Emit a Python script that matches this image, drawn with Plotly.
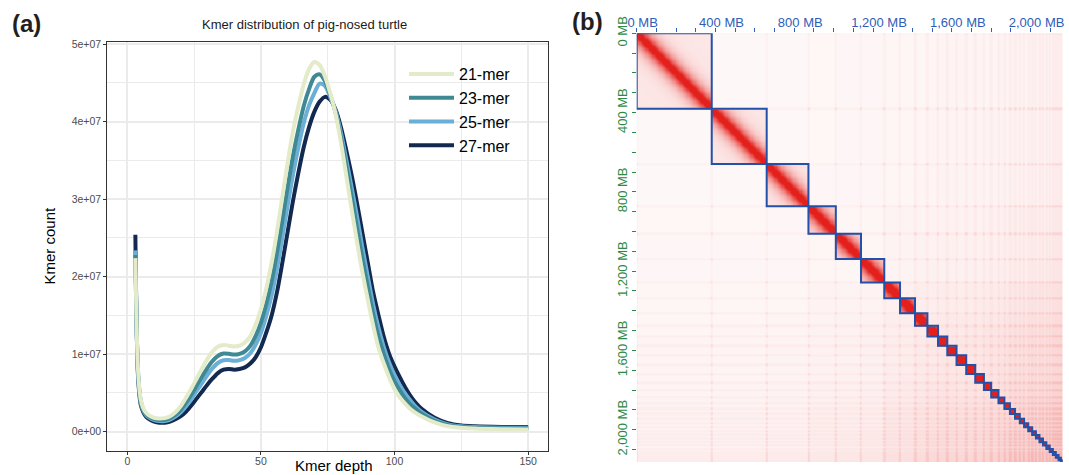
import numpy as np
import plotly.graph_objects as go

# ---------------- Panel (a) data: k-mer depth distribution ----------------
depth = [3, 4, 5, 6, 7, 8, 9, 10, 12, 14, 16, 18, 20, 22, 24, 26, 28, 30, 32, 34,
         36, 38, 40, 42, 44, 46, 48, 50, 52, 54, 56, 58, 60, 62, 64, 66, 68, 70,
         72, 74, 76, 78, 80, 82, 84, 86, 88, 90, 92, 94, 96, 98, 100, 102, 104,
         106, 108, 110, 115, 120, 125, 130, 140, 150]

# counts in units of 1e7
mer21 = [2.24, 0.80, 0.42, 0.30, 0.245, 0.215, 0.195, 0.18, 0.17, 0.175, 0.20, 0.25,
         0.33, 0.44, 0.56, 0.69, 0.82, 0.94, 1.04, 1.10, 1.12, 1.11, 1.10, 1.11,
         1.15, 1.23, 1.38, 1.58, 1.85, 2.18, 2.58, 3.03, 3.47, 3.88, 4.20, 4.48,
         4.68, 4.77, 4.73, 4.58, 4.36, 4.09, 3.72, 3.29, 2.86, 2.44, 2.05, 1.70,
         1.37, 1.08, 0.88, 0.70, 0.55, 0.44, 0.36, 0.29, 0.24, 0.20, 0.12, 0.07,
         0.05, 0.04, 0.033, 0.03]
mer23 = [2.28, 0.77, 0.40, 0.28, 0.228, 0.197, 0.178, 0.163, 0.151, 0.155, 0.176, 0.22,
         0.285, 0.38, 0.48, 0.60, 0.715, 0.825, 0.918, 0.98, 1.008, 1.005, 0.995, 1.005,
         1.038, 1.108, 1.233, 1.408, 1.65, 1.94, 2.31, 2.73, 3.16, 3.56, 3.90, 4.20,
         4.42, 4.58, 4.61, 4.52, 4.34, 4.11, 3.79, 3.41, 3.02, 2.62, 2.23, 1.87,
         1.52, 1.23, 1.00, 0.80, 0.65, 0.53, 0.43, 0.35, 0.29, 0.235, 0.14, 0.084,
         0.06, 0.05, 0.043, 0.04]
mer25 = [2.34, 0.75, 0.38, 0.27, 0.214, 0.184, 0.164, 0.149, 0.137, 0.139, 0.157, 0.194,
         0.25, 0.33, 0.42, 0.53, 0.63, 0.735, 0.823, 0.89, 0.922, 0.924, 0.914, 0.924,
         0.952, 1.013, 1.12, 1.276, 1.497, 1.76, 2.10, 2.50, 2.92, 3.32, 3.67, 3.98,
         4.21, 4.37, 4.49, 4.46, 4.31, 4.13, 3.85, 3.50, 3.14, 2.77, 2.37, 2.00,
         1.64, 1.34, 1.09, 0.89, 0.73, 0.60, 0.49, 0.40, 0.32, 0.26, 0.157, 0.095,
         0.07, 0.06, 0.052, 0.05]
mer27 = [2.54, 0.72, 0.35, 0.25, 0.195, 0.165, 0.145, 0.13, 0.117, 0.117, 0.13, 0.16,
         0.20, 0.26, 0.34, 0.43, 0.52, 0.61, 0.69, 0.76, 0.80, 0.81, 0.80, 0.81,
         0.83, 0.88, 0.96, 1.09, 1.28, 1.50, 1.80, 2.18, 2.58, 2.98, 3.34, 3.67,
         3.93, 4.13, 4.26, 4.32, 4.28, 4.15, 3.92, 3.62, 3.30, 2.94, 2.56, 2.18,
         1.80, 1.50, 1.22, 1.00, 0.84, 0.70, 0.57, 0.46, 0.37, 0.30, 0.18, 0.11,
         0.08, 0.07, 0.062, 0.06]

series_names = ["21-mer", "23-mer", "25-mer", "27-mer"]
series_vals = [mer21, mer23, mer25, mer27]
series_colors = ["#E3EBC9", "#3F8995", "#6BAED6", "#14294F"]

kmer_xticks = [0, 50, 100, 150]
kmer_yticks = [0, 1e7, 2e7, 3e7, 4e7, 5e7]
kmer_ytext = ["0e+00", "1e+07", "2e+07", "3e+07", "4e+07", "5e+07"]

# ---------------- Panel (b) data: Hi-C chromosome sizes (MB) ----------------
chrom_sizes_mb = [381, 279, 212, 139, 128, 118, 80, 76, 63, 54, 47, 47, 49, 46, 44,
                  37, 37, 30, 28, 26, 24, 22, 21, 20, 19, 18, 18, 17, 17, 16, 15,
                  14, 12, 9]
hic_tickvals = list(range(0, 2101, 100))
hic_ticktext = ["0 MB", "", "", "", "400 MB", "", "", "", "800 MB", "", "", "",
                "1,200 MB", "", "", "", "1,600 MB", "", "", "", "2,000 MB", ""]

W, H = 1069, 475
def px_x(p): return p / W
def px_y(p): return 1 - p / H

fig = go.Figure()

# draw order: 27 first, 21 on top
for name, vals, col in reversed(list(zip(series_names, series_vals, series_colors))):
    fig.add_trace(go.Scatter(
        x=depth, y=[v * 1e7 for v in vals], mode="lines", name=name,
        line=dict(color=col, width=4, shape="spline", smoothing=0.8),
        xaxis="x", yaxis="y", hoverinfo="skip"))

# ---------------- Hi-C matrix built from chromosome layout ----------------
sizes = np.array(chrom_sizes_mb, dtype=float)
starts = np.concatenate([[0.0], np.cumsum(sizes)[:-1]])
total = float(sizes.sum())
edges = [0.0]
bin_chrom, bin_pos, bin_end = [], [], []
for c, (s0, S) in enumerate(zip(starts, sizes)):
    n = max(1, int(round(S / 6.0)))
    e = s0 + S * np.arange(n + 1) / n
    edges.extend(e[1:].tolist())
    for k in range(n):
        bin_chrom.append(c)
        bin_pos.append(0.5 * (e[k] + e[k + 1]))
        bin_end.append(1.0 if (k == 0 or k == n - 1) else 0.0)
bin_chrom = np.array(bin_chrom)
bin_pos = np.array(bin_pos)
bin_end = np.array(bin_end)
bin_size = sizes[bin_chrom]
micro = np.exp(-bin_size / 60.0)

same = bin_chrom[:, None] == bin_chrom[None, :]
dist = np.abs(bin_pos[:, None] - bin_pos[None, :])
intra = (0.11 + 0.45 * np.exp(-bin_size[:, None] / 50.0)
         + 1.1 * np.exp(-(dist / 55.0) ** 1.3))
inter = 0.035 + 0.22 * micro[:, None] * micro[None, :] + 0.03 * (micro[:, None] + micro[None, :])
Z = np.where(same, intra, inter)
Z = Z + 0.025 * (bin_end[:, None] + bin_end[None, :]) + 0.06 * bin_end[:, None] * bin_end[None, :]
Z = np.clip(Z, 0, 1).round(3)

fig.add_trace(go.Heatmap(
    x=edges, y=edges, z=Z, zmin=0, zmax=1, showscale=False,
    colorscale=[[0, "#FFFFFF"], [1, "#E3201B"]],
    xaxis="x2", yaxis="y2", hoverinfo="skip"))

shapes = []
for s0, S in zip(starts, sizes):
    shapes.append(dict(type="rect", xref="x2", yref="y2", x0=s0, x1=s0 + S,
                       y0=s0, y1=s0 + S, line=dict(color="#2350A8", width=2),
                       fillcolor="rgba(0,0,0,0)", layer="above"))

grid_col = "#EBEBEB"
font_fam = "Liberation Sans, Arial, sans-serif"

fig.update_layout(
    width=W, height=H, template="none",
    margin=dict(l=0, r=0, t=0, b=0),
    paper_bgcolor="white", plot_bgcolor="white",
    font=dict(family=font_fam, color="#000000"),
    showlegend=True,
    legend=dict(x=px_x(404), y=px_y(57), xanchor="left", yanchor="top",
                traceorder="reversed", bgcolor="rgba(0,0,0,0)",
                font=dict(size=16, color="#000000"), itemwidth=45,
                tracegroupgap=0),
    xaxis=dict(domain=[px_x(107.3), px_x(548.2)], anchor="y",
               range=[-7.5, 157.5], tickvals=kmer_xticks,
               ticks="outside", ticklen=3, tickcolor="#333333",
               tickfont=dict(size=10.5, color="#4D4D4D"), ticklabelstandoff=-2,
               showgrid=True, gridcolor=grid_col, gridwidth=1.6,
               minor=dict(dtick=25, tick0=0, showgrid=True, gridcolor=grid_col, gridwidth=1.1),
               showline=True, linecolor="#333333", linewidth=1, mirror=True,
               zeroline=False, automargin=False),
    yaxis=dict(domain=[px_y(450.7), px_y(41.7)], anchor="x",
               range=[-0.245e7, 5.032e7], tickvals=kmer_yticks, ticktext=kmer_ytext,
               ticks="outside", ticklen=3, tickcolor="#333333",
               tickfont=dict(size=10.5, color="#4D4D4D"),
               showgrid=True, gridcolor=grid_col, gridwidth=1.6,
               minor=dict(dtick=0.5e7, tick0=0, showgrid=True, gridcolor=grid_col, gridwidth=1.1),
               showline=True, linecolor="#333333", linewidth=1, mirror=True,
               zeroline=False, automargin=False,
               title=dict(text="Kmer count", font=dict(size=15), standoff=12)),
    xaxis2=dict(domain=[px_x(636.7), px_x(1062.7)], anchor="y2", side="top",
                range=[0, total], tickvals=hic_tickvals, ticktext=hic_ticktext,
                ticks="outside", ticklen=4, tickcolor="#2F5DB8", tickwidth=1,
                tickfont=dict(size=13, color="#2F5DB8"), tickangle=0,
                ticklabelshift=6, ticklabelstandoff=-4,
                showgrid=False, zeroline=False, showline=False, automargin=False),
    yaxis2=dict(domain=[px_y(462), px_y(33.3)], anchor="x2",
                range=[total, 0], tickvals=hic_tickvals, ticktext=hic_ticktext,
                ticks="outside", ticklen=4, tickcolor="#2D8A45", tickwidth=1,
                tickfont=dict(size=13, color="#2D8A45"), tickangle=-90,
                showgrid=False, zeroline=False, showline=False, automargin=False),
    shapes=shapes,
    annotations=[
        dict(text="Kmer distribution of pig-nosed turtle", x=px_x(304), y=px_y(25),
             xref="paper", yref="paper", showarrow=False, xanchor="center", yanchor="middle",
             font=dict(size=13, color="#1A1A1A")),
        dict(text="Kmer depth", x=px_x(334), y=0, xref="paper", yref="paper",
             showarrow=False, xanchor="center", yanchor="bottom", borderpad=0,
             font=dict(size=15, color="#000000")),
        dict(text="<b>(a)</b>", x=px_x(10), y=px_y(24), xref="paper", yref="paper",
             showarrow=False, xanchor="left", yanchor="middle",
             font=dict(size=24, color="#231F20")),
        dict(text="<b>(b)</b>", x=px_x(570), y=px_y(22), xref="paper", yref="paper",
             showarrow=False, xanchor="left", yanchor="middle",
             font=dict(size=24, color="#231F20")),
    ],
)

fig.write_html("out.html", post_script="document.body.style.margin='0px';",
               config={"displayModeBar": False})
